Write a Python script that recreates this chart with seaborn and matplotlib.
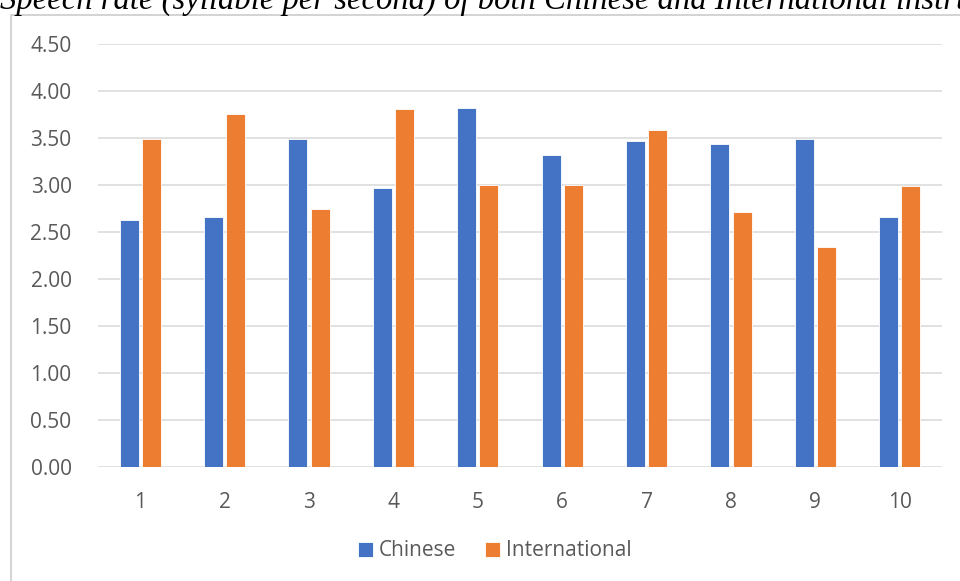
import seaborn as sns
from matplotlib import pyplot as plt
from matplotlib.patches import Rectangle
import pandas as pd

instructors = ['1', '2', '3', '4', '5', '6', '7', '8', '9', '10']
chinese = [2.63, 2.66, 3.49, 2.97, 3.82, 3.32, 3.47, 3.44, 3.49, 2.66]
international = [3.49, 3.76, 2.74, 3.81, 3.00, 3.00, 3.58, 2.71, 2.34, 2.99]
groups = ['Chinese', 'International']
colors = ['#4472C4', '#ED7D31']
title = 'Speech rate (syllable per second) of both Chinese and International instructors'

df = pd.DataFrame({
    'instructor': instructors * 2,
    'rate': chinese + international,
    'group': [groups[0]] * len(instructors) + [groups[1]] * len(instructors),
})

sns.set_style('white')
plt.rcParams['font.family'] = ['Open Sans', 'DejaVu Sans']
txt = '#595959'

fig = plt.figure(figsize=(9.6, 5.81), dpi=100)
W, H = 960, 581

# chart frame (only top and left edges are inside the picture)
fig.patches.append(Rectangle((11 / W, -0.5), 1.2, 1.5 - 15 / H, transform=fig.transFigure,
                             fill=False, edgecolor='#D0D0D0', lw=1.3))
fig.text(0, 1 - 9 / H, title, family='Liberation Serif', style='italic',
         fontsize=23.5, va='baseline', ha='left', color='black')

ax = fig.add_axes([98 / W, 1 - 467 / H, (942 - 98) / W, (467 - 44) / H])
sns.barplot(data=df, x='instructor', y='rate', hue='group', palette=colors,
            saturation=1, width=0.53, gap=0.15, edgecolor='white', linewidth=0.6,
            ax=ax, legend=True)

ax.set_ylim(0, 4.5)
ax.set_xlim(-0.5, 9.5)
ax.set_yticks([i * 0.5 for i in range(10)])
ax.set_yticklabels([f'{i * 0.5:.2f}' for i in range(10)])
ax.grid(axis='y', color='#D9D9D9', lw=1.1)
ax.set_axisbelow(True)
for s in ax.spines.values():
    s.set_visible(False)
ax.set_xlabel('')
ax.set_ylabel('')
ax.tick_params(axis='y', length=0, pad=19, labelsize=15, labelcolor=txt)
ax.tick_params(axis='x', length=0, pad=18, labelsize=15, labelcolor=txt)

handles, labels = ax.get_legend_handles_labels()
ax.get_legend().remove()
fig.legend(handles, labels, loc='center', bbox_to_anchor=(495 / W, 1 - 551 / H),
           ncol=2, frameon=False, fontsize=15, labelcolor=txt,
           handlelength=0.7, handleheight=0.7, handletextpad=0.3, columnspacing=1.4)

fig.savefig('out.png', dpi=100)
